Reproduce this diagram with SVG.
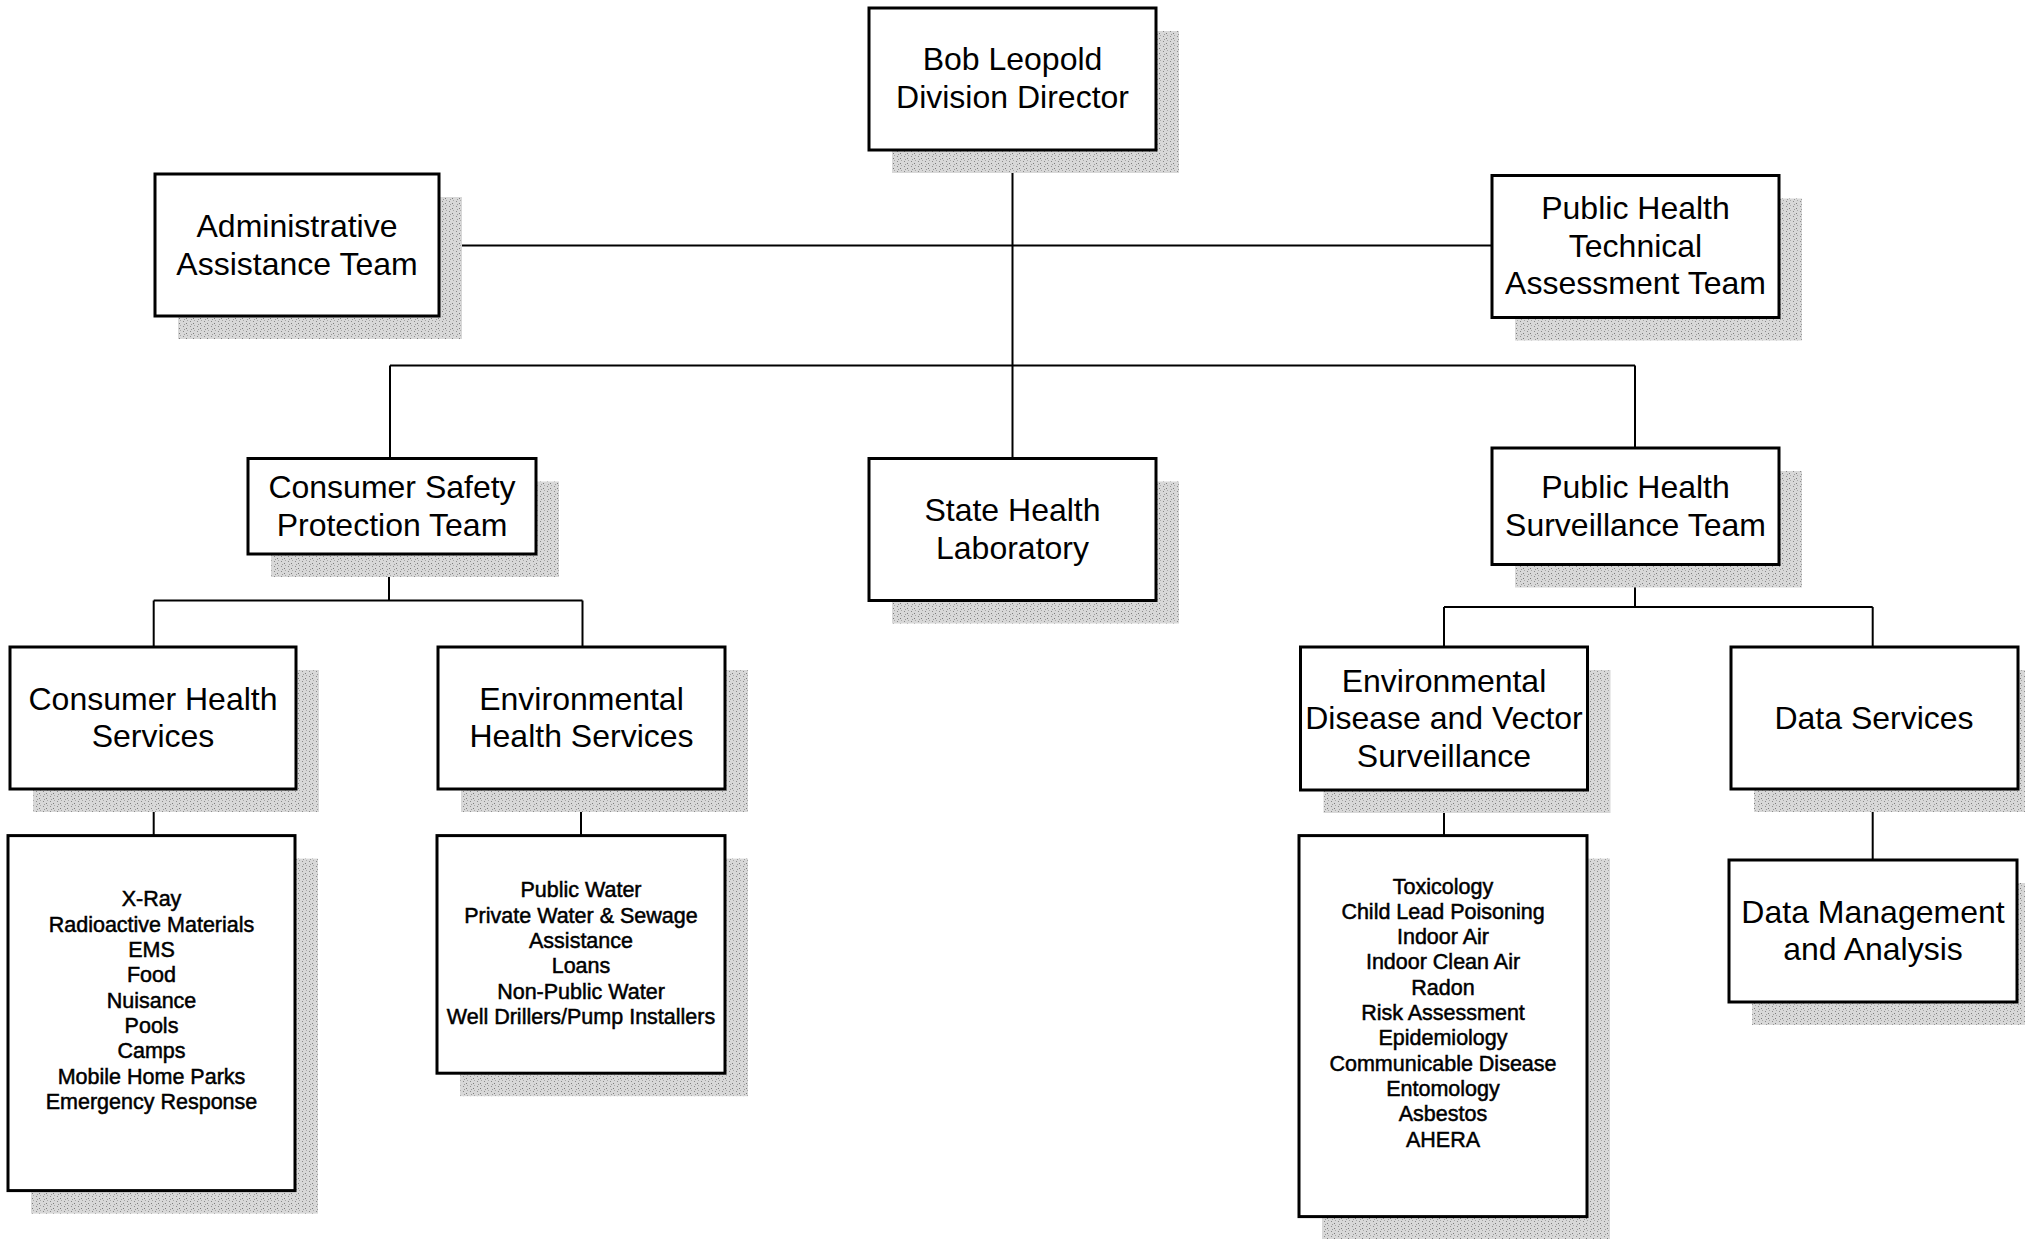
<svg xmlns="http://www.w3.org/2000/svg" width="2025" height="1239" viewBox="0 0 2025 1239">
<defs>
<pattern id="stip" width="7" height="5" patternUnits="userSpaceOnUse">
<rect width="7" height="5" fill="#d8d8d8"/>
<rect x="1" y="1" width="1" height="1" fill="#8a8a8a"/>
<rect x="4" y="3" width="1" height="1" fill="#7a7a7a"/>
<rect x="5" y="0" width="1" height="1" fill="#a8a8a8"/>
<rect x="2" y="4" width="1" height="1" fill="#9a9a9a"/>
</pattern>
</defs>
<style>
.sh{fill:url(#stip)}
.box{fill:#fff;stroke:#000;stroke-width:3}
.h{font-family:"Liberation Sans",Arial,sans-serif;font-size:32px;text-anchor:middle;fill:#000}
.l{font-family:"Liberation Sans",Arial,sans-serif;font-size:21.5px;text-anchor:middle;fill:#000;stroke:#000;stroke-width:0.5}
.c{fill:none;stroke:#000;stroke-width:2}
</style>
<rect width="2025" height="1239" fill="#fff"/>

<g id="connectors" class="c">
<path d="M1012.5 150V458.5"/>
<path d="M439 245.4H1492"/>
<path d="M390 365.5H1635"/>
<path d="M390 365.5V458.5"/>
<path d="M1635 365.5V448"/>
<path d="M389 554V600.5"/>
<path d="M153.7 600.5H582.5"/>
<path d="M153.7 600.5V647"/>
<path d="M582.5 600.5V647"/>
<path d="M153.7 789V835.6"/>
<path d="M581 789V835.6"/>
<path d="M1635 564.4V607"/>
<path d="M1444 607H1872.7"/>
<path d="M1444 607V647"/>
<path d="M1872.7 607V647"/>
<path d="M1444 790V835.6"/>
<path d="M1872.7 789V860"/>
</g>

<g id="director">
<rect class="sh" x="892" y="31" width="287" height="142"/>
<rect class="box" x="869" y="8" width="287" height="142"/>
<text class="h" y="70"><tspan x="1012.5">Bob Leopold</tspan><tspan x="1012.5" dy="37.5">Division Director</tspan></text>
</g>

<g id="admin">
<rect class="sh" x="178" y="197" width="284" height="142"/>
<rect class="box" x="155" y="174" width="284" height="142"/>
<text class="h" y="237"><tspan x="297">Administrative</tspan><tspan x="297" dy="37.5">Assistance Team</tspan></text>
</g>

<g id="phta">
<rect class="sh" x="1515" y="198.5" width="287" height="142"/>
<rect class="box" x="1492" y="175.5" width="287" height="142"/>
<text class="h" y="219"><tspan x="1635.5">Public Health</tspan><tspan x="1635.5" dy="37.5">Technical</tspan><tspan x="1635.5" dy="37.5">Assessment Team</tspan></text>
</g>

<g id="cspt">
<rect class="sh" x="271" y="481.5" width="288" height="95.5"/>
<rect class="box" x="248" y="458.5" width="288" height="95.5"/>
<text class="h" y="498"><tspan x="392">Consumer Safety</tspan><tspan x="392" dy="37.5">Protection Team</tspan></text>
</g>

<g id="shl">
<rect class="sh" x="892" y="481.5" width="287" height="142"/>
<rect class="box" x="869" y="458.5" width="287" height="142"/>
<text class="h" y="521"><tspan x="1012.5">State Health</tspan><tspan x="1012.5" dy="37.5">Laboratory</tspan></text>
</g>

<g id="phst">
<rect class="sh" x="1515" y="471" width="287" height="116.5"/>
<rect class="box" x="1492" y="448" width="287" height="116.5"/>
<text class="h" y="498"><tspan x="1635.5">Public Health</tspan><tspan x="1635.5" dy="37.5">Surveillance Team</tspan></text>
</g>

<g id="chs">
<rect class="sh" x="33" y="670" width="286" height="142"/>
<rect class="box" x="10" y="647" width="286" height="142"/>
<text class="h" y="709.5"><tspan x="153">Consumer Health</tspan><tspan x="153" dy="37.5">Services</tspan></text>
</g>

<g id="ehs">
<rect class="sh" x="461" y="670" width="287" height="142"/>
<rect class="box" x="438" y="647" width="287" height="142"/>
<text class="h" y="709.5"><tspan x="581.5">Environmental</tspan><tspan x="581.5" dy="37.5">Health Services</tspan></text>
</g>

<g id="edvs">
<rect class="sh" x="1323.5" y="670" width="287" height="143"/>
<rect class="box" x="1300.5" y="647" width="287" height="143"/>
<text class="h" y="691.5"><tspan x="1444">Environmental</tspan><tspan x="1444" dy="37.5">Disease and Vector</tspan><tspan x="1444" dy="37.5">Surveillance</tspan></text>
</g>

<g id="ds">
<rect class="sh" x="1754" y="670" width="287" height="142"/>
<rect class="box" x="1731" y="647" width="287" height="142"/>
<text class="h" x="1874" y="729">Data Services</text>
</g>

<g id="chs-list">
<rect class="sh" x="31" y="858.6" width="287" height="355"/>
<rect class="box" x="8" y="835.6" width="287" height="355"/>
<text class="l" y="906.4"><tspan x="151.5">X-Ray</tspan><tspan x="151.5" dy="25.3">Radioactive Materials</tspan><tspan x="151.5" dy="25.3">EMS</tspan><tspan x="151.5" dy="25.3">Food</tspan><tspan x="151.5" dy="25.3">Nuisance</tspan><tspan x="151.5" dy="25.3">Pools</tspan><tspan x="151.5" dy="25.3">Camps</tspan><tspan x="151.5" dy="25.3">Mobile Home Parks</tspan><tspan x="151.5" dy="25.3">Emergency Response</tspan></text>
</g>

<g id="ehs-list">
<rect class="sh" x="460" y="858.6" width="288" height="237.6"/>
<rect class="box" x="437" y="835.6" width="288" height="237.6"/>
<text class="l" y="897.3"><tspan x="581">Public Water</tspan><tspan x="581" dy="25.3">Private Water &amp; Sewage</tspan><tspan x="581" dy="25.3">Assistance</tspan><tspan x="581" dy="25.3">Loans</tspan><tspan x="581" dy="25.3">Non-Public Water</tspan><tspan x="581" dy="25.3">Well Drillers/Pump Installers</tspan></text>
</g>

<g id="edvs-list">
<rect class="sh" x="1322" y="858.6" width="288" height="381"/>
<rect class="box" x="1299" y="835.6" width="288" height="381"/>
<text class="l" y="893.5"><tspan x="1443">Toxicology</tspan><tspan x="1443" dy="25.3">Child Lead Poisoning</tspan><tspan x="1443" dy="25.3">Indoor Air</tspan><tspan x="1443" dy="25.3">Indoor Clean Air</tspan><tspan x="1443" dy="25.3">Radon</tspan><tspan x="1443" dy="25.3">Risk Assessment</tspan><tspan x="1443" dy="25.3">Epidemiology</tspan><tspan x="1443" dy="25.3">Communicable Disease</tspan><tspan x="1443" dy="25.3">Entomology</tspan><tspan x="1443" dy="25.3">Asbestos</tspan><tspan x="1443" dy="25.3">AHERA</tspan></text>
</g>

<g id="dm">
<rect class="sh" x="1752" y="883" width="288" height="142"/>
<rect class="box" x="1729" y="860" width="288" height="142"/>
<text class="h" y="922.8"><tspan x="1873">Data Management</tspan><tspan x="1873" dy="37.5">and Analysis</tspan></text>
</g>
</svg>
